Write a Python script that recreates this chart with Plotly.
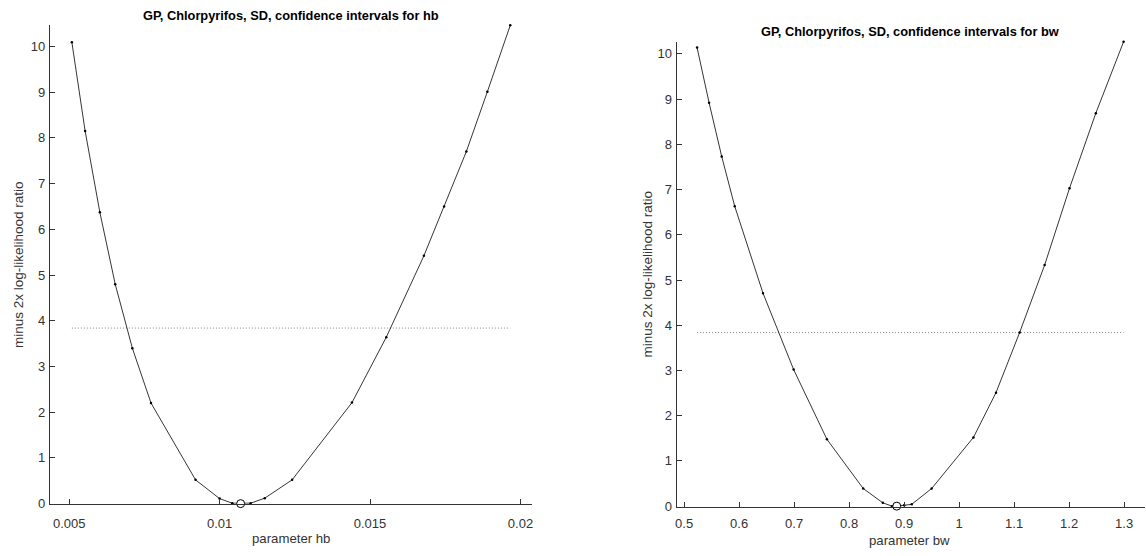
import plotly.graph_objects as go

W, H = 1146, 556

# Profile likelihood for hb
hb_vals = [0.00509, 0.00553, 0.00602, 0.00653, 0.0071, 0.00772, 0.0092, 0.0100,
           0.01042, 0.01103, 0.0115, 0.01241, 0.0144, 0.01554, 0.01679, 0.01746,
           0.0182, 0.0189, 0.01966]
hb_lr = [10.09, 8.15, 6.37, 4.80, 3.40, 2.20, 0.52, 0.11,
         0.01, 0.01, 0.12, 0.52, 2.21, 3.64, 5.42, 6.50,
         7.70, 9.01, 10.46]
hb_best = [0.0107]
hb_best_lr = [0.0]

# Profile likelihood for bw
bw_vals = [0.5236, 0.5454, 0.5684, 0.592, 0.6434, 0.6991, 0.7596, 0.8256, 0.8612,
           0.878, 0.9, 0.9138, 0.95, 1.026, 1.067, 1.110, 1.1554, 1.2007, 1.2485, 1.299]
bw_lr = [10.14, 8.92, 7.73, 6.63, 4.71, 3.02, 1.48, 0.39, 0.074,
         0.0, 0.02, 0.04, 0.39, 1.52, 2.51, 3.84, 5.33, 7.03, 8.69, 10.27]
bw_best = [0.8866]
bw_best_lr = [0.0]

# chi-square(1) 95% cut-off
chi2_crit = 3.84

hb_ticks = [0.005, 0.01, 0.015, 0.02]
hb_ticktext = ["0.005", "0.01", "0.015", "0.02"]
bw_ticks = [0.5, 0.6, 0.7, 0.8, 0.9, 1.0, 1.1, 1.2, 1.3]
bw_ticktext = ["0.5", "0.6", "0.7", "0.8", "0.9", "1", "1.1", "1.2", "1.3"]
y_ticks = list(range(0, 11))

FONT = "Liberation Sans, Arial, Helvetica, sans-serif"
AX = "#333333"


def px_x(p):
    return p / W


def px_y(p):
    return 1 - p / H


fig = go.Figure()


def add_panel(xs, ys, bx, by, xa, ya):
    fig.add_trace(go.Scatter(
        x=[min(xs), max(xs)], y=[chi2_crit, chi2_crit], mode="lines",
        line=dict(color="#666666", width=0.8, dash="1px,2px"),
        xaxis=xa, yaxis=ya, showlegend=False, hoverinfo="skip"))
    fig.add_trace(go.Scatter(
        x=xs, y=ys, mode="lines+markers",
        line=dict(color="black", width=0.8),
        marker=dict(color="black", size=2.5),
        xaxis=xa, yaxis=ya, showlegend=False, cliponaxis=False))
    fig.add_trace(go.Scatter(
        x=bx, y=by, mode="markers",
        marker=dict(color="white", size=8, line=dict(color="black", width=1)),
        xaxis=xa, yaxis=ya, showlegend=False, cliponaxis=False))


add_panel(hb_vals, hb_lr, hb_best, hb_best_lr, "x", "y")
add_panel(bw_vals, bw_lr, bw_best, bw_best_lr, "x2", "y2")

axis_common = dict(
    showline=True, linecolor=AX, linewidth=1, showgrid=False, zeroline=False,
    ticks="inside", ticklen=5, tickwidth=1, tickcolor=AX,
    tickfont=dict(family=FONT, size=13, color=AX), mirror=False,
)

fig.update_layout(
    width=W, height=H,
    margin=dict(l=0, r=0, t=0, b=0),
    paper_bgcolor="white", plot_bgcolor="white",
    xaxis=dict(domain=[px_x(49), px_x(532)], range=[0.00436, 0.020385],
               tickvals=hb_ticks, ticktext=hb_ticktext, anchor="y",
               ticklabelstandoff=8, **axis_common),
    yaxis=dict(domain=[px_y(511), px_y(25.7)], range=[0, 10.46],
               tickvals=y_ticks, anchor="x", ticklabelstandoff=1, **axis_common),
    xaxis2=dict(domain=[px_x(676.7), 1.0], range=[0.4862, 1.3379],
                tickvals=bw_ticks, ticktext=bw_ticktext, anchor="y2",
                ticklabelstandoff=5, **axis_common),
    yaxis2=dict(domain=[px_y(514), px_y(42.3)], range=[-0.01, 10.27],
                tickvals=y_ticks, anchor="x2", ticklabelstandoff=1, **axis_common),
)


def text(x, y, s, size=13.5, bold=False, angle=0, color=AX, yanchor="middle"):
    fig.add_annotation(
        x=px_x(x), y=px_y(y), xref="paper", yref="paper",
        text=f"<b>{s}</b>" if bold else s, showarrow=False,
        xanchor="center", yanchor=yanchor, textangle=angle, borderpad=0,
        font=dict(family=FONT, size=size, color=color))


text(290.5, 15.7, "GP, Chlorpyrifos, SD, confidence intervals for hb", size=12.8, bold=True, color="black")
text(910.5, 32.3, "GP, Chlorpyrifos, SD, confidence intervals for bw", size=12.8, bold=True, color="black")
text(290.5, 555, "parameter hb", size=13.2, yanchor="bottom")
text(910.5, 557, "parameter bw", size=13.2, yanchor="bottom")
text(17, 268, "minus 2x log-likelihood ratio", angle=-90)
text(646.7, 278, "minus 2x log-likelihood ratio", angle=-90)

fig.write_html("out.html")
